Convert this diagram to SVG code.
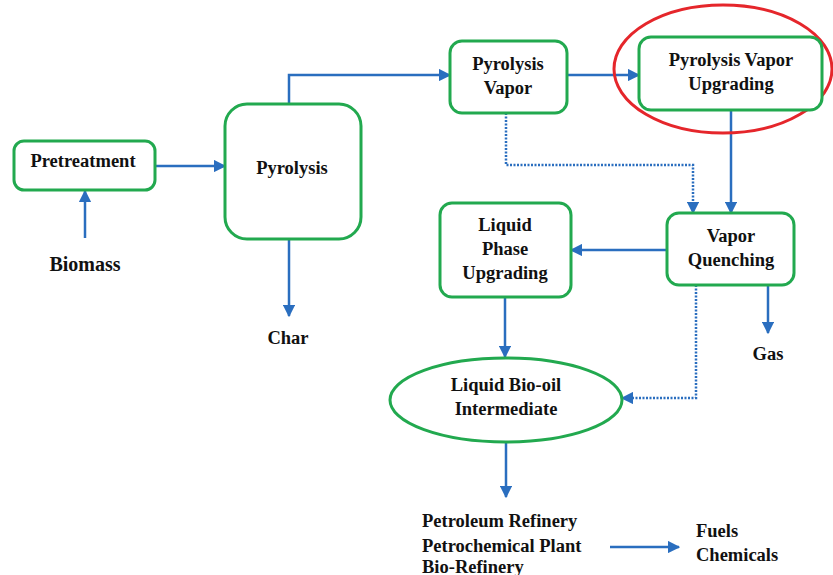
<svg xmlns="http://www.w3.org/2000/svg" width="833" height="575" viewBox="0 0 833 575">
<style>
.box{fill:#fff;stroke:#22a94f;stroke-width:3}
.t{font-family:"Liberation Serif","Times New Roman",serif;font-weight:bold;font-size:18.5px;fill:#111;text-anchor:middle}
.tl{font-family:"Liberation Serif","Times New Roman",serif;font-weight:bold;font-size:18.5px;fill:#111}
.c{fill:none;stroke:#2a6ebf;stroke-width:2.5}
.d{fill:none;stroke:#2a6ebf;stroke-width:2.5;stroke-dasharray:2 1.5}
</style>
<defs>
<marker id="ah" viewBox="0 0 10 10" refX="9" refY="5" markerWidth="5" markerHeight="5" orient="auto" markerUnits="strokeWidth">
<path d="M0,0 L10,5 L0,10 z" fill="#2a6ebf"/>
</marker>
</defs>
<rect width="833" height="575" fill="#fff"/>
<g id="connectors">
<path class="c" d="M85,238 V191" marker-end="url(#ah)"/>
<path class="c" d="M155,166 H225" marker-end="url(#ah)"/>
<path class="c" d="M289,239 V316" marker-end="url(#ah)"/>
<path class="c" d="M289,104 V75 H450" marker-end="url(#ah)"/>
<path class="c" d="M567,75 H639" marker-end="url(#ah)"/>
<path class="c" d="M731,110 V213" marker-end="url(#ah)"/>
<path class="d" d="M506,113 V165 H693 V213" marker-end="url(#ah)"/>
<path class="c" d="M667,250 H571" marker-end="url(#ah)"/>
<path class="c" d="M768,285 V333" marker-end="url(#ah)"/>
<path class="d" d="M696,285 V398 H622" marker-end="url(#ah)"/>
<path class="c" d="M505,297 V357" marker-end="url(#ah)"/>
<path class="c" d="M506,442 V497" marker-end="url(#ah)"/>
<path class="c" d="M610,547 H679" marker-end="url(#ah)"/>
</g>
<g id="pretreatment">
<rect class="box" x="14" y="141" width="141" height="49" rx="10"/>
<text class="t" x="83" y="167">Pretreatment</text>
</g>
<g id="biomass"><text class="t" x="85" y="271" style="font-size:20px">Biomass</text></g>
<g id="pyrolysis">
<rect class="box" x="225" y="104" width="136" height="135" rx="22"/>
<text class="t" x="292" y="174">Pyrolysis</text>
</g>
<g id="char"><text class="t" x="288" y="344">Char</text></g>
<g id="pyrolysis-vapor">
<rect class="box" x="450" y="41" width="117" height="72" rx="12"/>
<text class="t" x="508" y="70">Pyrolysis</text>
<text class="t" x="508" y="94">Vapor</text>
</g>
<g id="vapor-upgrading">
<ellipse cx="723" cy="69" rx="109" ry="64" fill="none" stroke="#e5262b" stroke-width="3"/>
<rect class="box" x="639" y="37" width="183" height="73" rx="12"/>
<text class="t" x="731" y="66">Pyrolysis Vapor</text>
<text class="t" x="731" y="90">Upgrading</text>
</g>
<g id="vapor-quenching">
<rect class="box" x="667" y="213" width="127" height="72" rx="12"/>
<text class="t" x="731" y="242">Vapor</text>
<text class="t" x="731" y="266">Quenching</text>
</g>
<g id="gas"><text class="t" x="768" y="360">Gas</text></g>
<g id="liquid-phase">
<rect class="box" x="440" y="203" width="131" height="94" rx="12"/>
<text class="t" x="505" y="231">Liquid</text>
<text class="t" x="505" y="255">Phase</text>
<text class="t" x="505" y="279">Upgrading</text>
</g>
<g id="bio-oil">
<ellipse cx="506" cy="400" rx="116" ry="42" fill="#fff" stroke="#22a94f" stroke-width="3"/>
<text class="t" x="506" y="391">Liquid Bio-oil</text>
<text class="t" x="506" y="415">Intermediate</text>
</g>
<g id="refinery">
<text class="tl" x="422" y="527">Petroleum Refinery</text>
<text class="tl" x="422" y="552">Petrochemical Plant</text>
<text class="tl" x="422" y="573">Bio-Refinery</text>
</g>
<g id="products">
<text class="tl" x="696" y="537">Fuels</text>
<text class="tl" x="696" y="561">Chemicals</text>
</g>
</svg>
